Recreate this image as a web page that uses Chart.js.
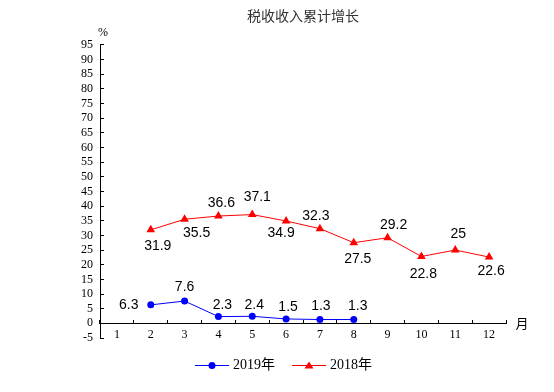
<!DOCTYPE html>
<html>
<head>
<meta charset="utf-8">
<title>税收收入累计增长</title>
<script src="https://cdn.jsdelivr.net/npm/chart.js@4/dist/chart.umd.min.js"></script>
<style>
	body { margin: 0; background: #fff; }
	#wrap { width: 554px; height: 392px; position: relative; }
</style>
</head>
<body>
<div id="wrap"><canvas id="myLineChart"></canvas></div>
<script>
//data
var months = ["1", "2", "3", "4", "5", "6", "7", "8", "9", "10", "11", "12"];
var growth2019 = [null, 6.3, 7.6, 2.3, 2.4, 1.5, 1.3, 1.3, null, null, null, null];
var growth2018 = [null, 31.9, 35.5, 36.6, 37.1, 34.9, 32.3, 27.5, 29.2, 22.8, 25, 22.6];
var yTicks = [-5, 0, 5, 10, 15, 20, 25, 30, 35, 40, 45, 50, 55, 60, 65, 70, 75, 80, 85, 90, 95];

//where each value label sits relative to its point [dx, dy]
var labelPos2019 = [null, [-22, 0], [0, -14], [4, -11], [2, -11], [2, -12], [1, -13], [4, -13], null, null, null, null];
var labelPos2018 = [null, [7, 16], [12, 14], [3, -13], [5, -17], [-5, 12], [-4, -12], [4, 16], [6, -13], [2, 18], [3, -16], [2, 14]];

//small picture of line + marker for the legend
function makeLegendIcon(color, shape){
	var c = document.createElement("canvas");
	c.width = 34;
	c.height = 12;
	var ctx = c.getContext("2d");
	ctx.strokeStyle = color;
	ctx.fillStyle = color;
	ctx.lineWidth = 1;
	ctx.beginPath();
	ctx.moveTo(0, 6.5);
	ctx.lineTo(34, 6.5);
	ctx.stroke();
	ctx.beginPath();
	if(shape == "circle"){
		ctx.arc(17, 6.5, 3.5, 0, Math.PI * 2);
	} else {
		ctx.moveTo(17, 2.5);
		ctx.lineTo(21.5, 9.5);
		ctx.lineTo(12.5, 9.5);
		ctx.closePath();
	}
	ctx.fill();
	return c;
}

//draws the numbers next to the points and the unit texts
var valueLabels = {
	id: "valueLabels",
	afterDatasetsDraw: function(chart){
		var ctx = chart.ctx;
		var positions = [labelPos2019, labelPos2018];
		ctx.save();
		ctx.font = "14px 'Liberation Sans', Arial, sans-serif";
		ctx.fillStyle = "#000";
		ctx.textAlign = "center";
		ctx.textBaseline = "middle";
		for(var d = 0; d < chart.data.datasets.length; d++){
			var meta = chart.getDatasetMeta(d);
			var values = chart.data.datasets[d].data;
			for(var i = 0; i < values.length; i++){
				if(values[i] === null || !positions[d][i]) continue;
				var pt = meta.data[i];
				ctx.fillText(String(values[i]), pt.x + positions[d][i][0], pt.y + positions[d][i][1]);
			}
		}
		//unit labels
		var area = chart.chartArea;
		var yScale = chart.scales.y;
		ctx.font = "12px 'Liberation Serif', 'Times New Roman', serif";
		ctx.fillText("%", area.left + 3, area.top - 12);
		ctx.font = "13px 'Noto Sans CJK SC', sans-serif";
		ctx.fillText("月", area.right + 16, yScale.getPixelForValue(0));
		ctx.restore();
	}
};

var lineData = {
	labels: months,
	datasets: [{
		label: "2019年",
		data: growth2019,
		borderColor: "#0000FF",
		backgroundColor: "#0000FF",
		borderWidth: 1,
		pointStyle: "circle",
		pointRadius: 3.5,
		pointBorderWidth: 0,
		pointHoverRadius: 3.5,
		spanGaps: false
	}, {
		label: "2018年",
		data: growth2018,
		borderColor: "#FF0000",
		backgroundColor: "#FF0000",
		borderWidth: 1,
		pointStyle: "triangle",
		pointRadius: 5,
		pointBorderWidth: 0,
		pointHoverRadius: 5
	}]
};

var legendIcons = [makeLegendIcon("#0000FF", "circle"), makeLegendIcon("#FF0000", "triangle")];

var line_ctx = document.getElementById("myLineChart");
var myLineChart = new Chart(line_ctx, {
	type: "line",
	data: lineData,
	plugins: [valueLabels],
	options: {
		responsive: true,
		maintainAspectRatio: false,
		animation: false,
		layout: {
			padding: { left: 64, right: 48, top: 0, bottom: 10 }
		},
		plugins: {
			title: {
				display: true,
				fullSize: false,
				text: "税收收入累计增长",
				color: "#333",
				font: { family: "'Noto Sans CJK SC', sans-serif", size: 14, weight: "normal", lineHeight: 1.2 },
				padding: { top: 7, bottom: 21 }
			},
			legend: {
				position: "bottom",
				labels: {
					usePointStyle: true,
					pointStyleWidth: 28,
					padding: 20,
					color: "#000",
					font: { family: "'Liberation Serif', 'Noto Sans CJK SC', serif", size: 14, lineHeight: 1 },
					generateLabels: function(chart){
						return chart.data.datasets.map(function(ds, i){
							return {
								text: ds.label,
								pointStyle: legendIcons[i],
								datasetIndex: i,
								fontColor: "#000",
								lineWidth: 0
							};
						});
					}
				}
			},
			tooltip: { enabled: false }
		},
		scales: {
			x: {
				type: "category",
				position: { y: 0 },
				offset: true,
				afterFit: function(scale){ scale.height = 0; },
				grid: {
					offset: true,
					drawOnChartArea: false,
					tickLength: -4,
					color: "#000"
				},
				border: { display: true, color: "#000", width: 1 },
				ticks: {
					color: "#000",
					padding: 8,
					maxRotation: 0,
					autoSkip: false,
					font: { family: "'Liberation Serif', 'Times New Roman', serif", size: 12 }
				}
			},
			y: {
				min: -5,
				max: 95,
				afterFit: function(scale){ scale.width = 36; },
				afterBuildTicks: function(scale){
					scale.ticks = yTicks.map(function(v){ return { value: v }; });
				},
				grid: {
					drawOnChartArea: false,
					tickLength: -4,
					color: "#000"
				},
				border: { display: true, color: "#000", width: 1 },
				ticks: {
					color: "#000",
					padding: 11,
					autoSkip: false,
					font: { family: "'Liberation Serif', 'Times New Roman', serif", size: 12 }
				}
			}
		}
	}
});
</script>
</body>
</html>
